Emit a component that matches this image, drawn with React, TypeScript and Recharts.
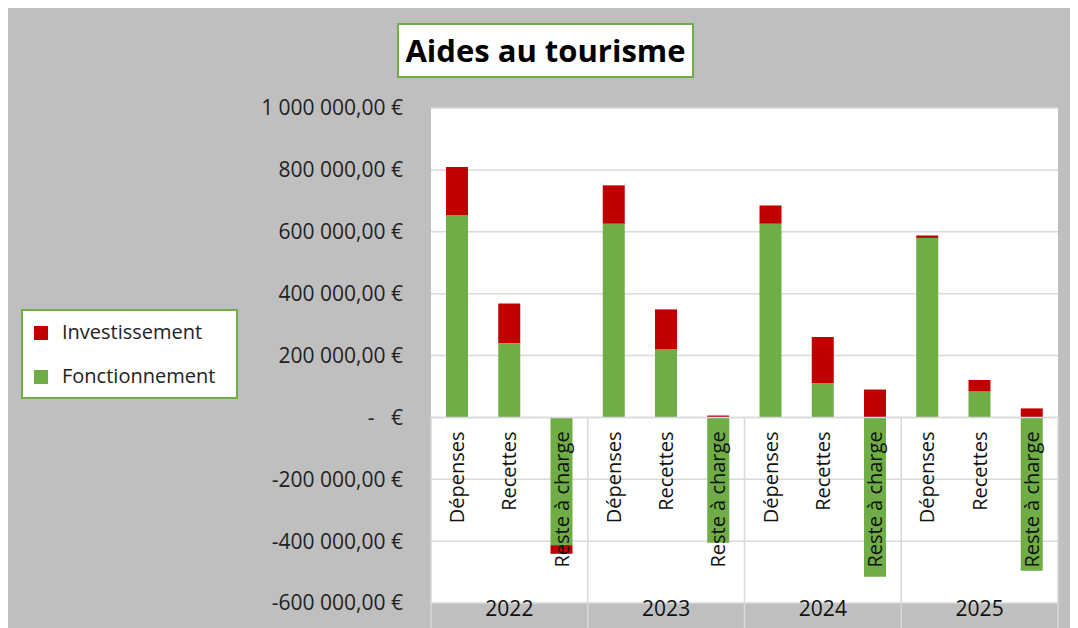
import React from 'react';
import { BarChart, Bar, XAxis, YAxis, CartesianGrid, Legend, LabelList, ReferenceLine } from 'recharts';

const years = ['2022', '2023', '2024', '2025'];
const groupCategories = ['Dépenses', 'Recettes', 'Reste à charge'];
const fonctionnement = [653000, 240000, -413000, 626000, 221000, -405000, 626000, 111000, -515000, 580000, 84000, -496000];
const investissement = [156000, 128000, -28000, 124000, 128000, 6000, 59000, 149000, 90000, 8000, 37000, 29000];
const yTicks = [-600000, -400000, -200000, 0, 200000, 400000, 600000, 800000, 1000000];

const FONT = "'Open Sans', 'Noto Sans', sans-serif";
const GREEN = '#70AD47';
const RED = '#C00000';
const GRID = '#D9D9D9';
const BG = '#BFBFBF';

const data = years.flatMap((year, g) =>
    groupCategories.map((cat, k) => {
        const i = g * 3 + k;
        return { cat, year, fonctionnement: fonctionnement[i], investissement: investissement[i] };
    })
);

// format comptable type Excel : "1 000 000,00 €", zéro -> "-   €"
const formatEuro = (v: number) => {
    if (v === 0) return '-\u00A0\u00A0\u00A0€';
    const s = Math.abs(v).toFixed(0).replace(/\B(?=(\d{3})+(?!\d))/g, ' ');
    return `${v < 0 ? '-' : ''}${s},00 €`;
};

// libellés de catégorie verticaux posés sur la ligne du zéro
const CategoryLabel = (props: any) => {
    const vb = props.viewBox || props;
    const { x, y, width, height } = vb;
    const index = props.index;
    if (x == null || index == null) return null;
    const zeroY = height < 0 ? y + height : (fonctionnement[index] >= 0 ? y + height : y);
    const cx = x + width / 2;
    const ty = zeroY + 14;
    return (
        <text
            x={cx}
            y={ty}
            dy="0.35em"
            textAnchor="end"
            transform={`rotate(-90, ${cx}, ${ty})`}
            fontSize={20}
            fontFamily={FONT}
            fill="#111"
        >
            {data[index].cat}
        </text>
    );
};

// séparateurs entre années, depuis la ligne du zéro jusqu'en bas
const ZeroLine = (props: any) => {
    const { x1, y1, x2 } = props;
    const step = (x2 - x1) / years.length;
    return (
        <g>
            <line x1={x1} y1={y1} x2={x2} y2={y1} stroke={GRID} strokeWidth={1.5} />
            {years.concat(['']).map((_, k) => (
                <line key={k} x1={x1 + k * step} y1={y1} x2={x1 + k * step} y2={y1 + 1000} stroke={GRID} strokeWidth={1.5} />
            ))}
        </g>
    );
};

const YearTick = (props: any) => {
    const { x, y, payload } = props;
    return (
        <text x={x} y={y - 24} dy="0.35em" textAnchor="middle" fontSize={21} fontFamily={FONT} fill="#111">
            {payload.value}
        </text>
    );
};

const renderLegend = (props: any) => {
    const items = [...(props.payload || [])].reverse();
    return (
        <div
            style={{
                boxSizing: 'border-box',
                width: 217,
                height: 90,
                background: '#fff',
                border: `2px solid ${GREEN}`,
                fontFamily: FONT,
                fontSize: 20,
                color: '#222',
            }}
        >
            {items.map((entry: any) => (
                <div key={entry.value} style={{ height: 44, display: 'flex', alignItems: 'center' }}>
                    <span style={{ display: 'inline-block', width: 14, height: 14, background: entry.color, marginLeft: 11, marginRight: 14 }} />
                    <span style={{ marginTop: -3 }}>{entry.value}</span>
                </div>
            ))}
        </div>
    );
};

const App: React.FC = () => {
    return (
        <div style={{ position: 'relative', width: 1070, height: 620, background: BG, fontFamily: FONT }}>
            <BarChart
                width={1070}
                height={620}
                data={data}
                stackOffset="sign"
                margin={{ top: 100, right: 20, bottom: 0, left: 0 }}
            >
                <CartesianGrid xAxisId="cat" vertical={false} stroke={GRID} strokeWidth={1.5} fill="#fff" />
                <XAxis xAxisId="cat" dataKey="cat" hide />
                <XAxis
                    xAxisId="year"
                    dataKey="year"
                    allowDuplicatedCategory={false}
                    axisLine={false}
                    tickLine={false}
                    tickSize={0}
                    tickMargin={0}
                    height={25}
                    interval={0}
                    tick={<YearTick />}
                />
                <YAxis
                    width={423}
                    domain={[-600000, 1000000]}
                    ticks={yTicks}
                    tickFormatter={formatEuro}
                    axisLine={false}
                    tickLine={false}
                    tickSize={0}
                    tickMargin={28}
                    tick={{ fontSize: 21, fill: '#222', fontFamily: FONT }}
                />
                <ReferenceLine xAxisId="cat" y={0} shape={ZeroLine} />
                <Bar xAxisId="cat" dataKey="fonctionnement" name="Fonctionnement" stackId="a" fill={GREEN} barSize={22} isAnimationActive={false}>
                    <LabelList dataKey="cat" content={CategoryLabel} />
                </Bar>
                <Bar xAxisId="cat" dataKey="investissement" name="Investissement" stackId="a" fill={RED} barSize={22} isAnimationActive={false} />
                <Legend
                    layout="horizontal"
                    align="center"
                    verticalAlign="middle"
                    content={renderLegend}
                    wrapperStyle={{ left: 13, top: 301, width: 217, height: 90 }}
                />
            </BarChart>
            <div
                style={{
                    position: 'absolute',
                    left: 389,
                    top: 15,
                    width: 297,
                    height: 55,
                    boxSizing: 'border-box',
                    border: `2px solid ${GREEN}`,
                    background: '#fff',
                    fontWeight: 700,
                    fontSize: 31,
                    lineHeight: '51px',
                    textAlign: 'center',
                    color: '#000',
                    whiteSpace: 'nowrap',
                }}
            >
                Aides au tourisme
            </div>
        </div>
    );
};

export default App;
